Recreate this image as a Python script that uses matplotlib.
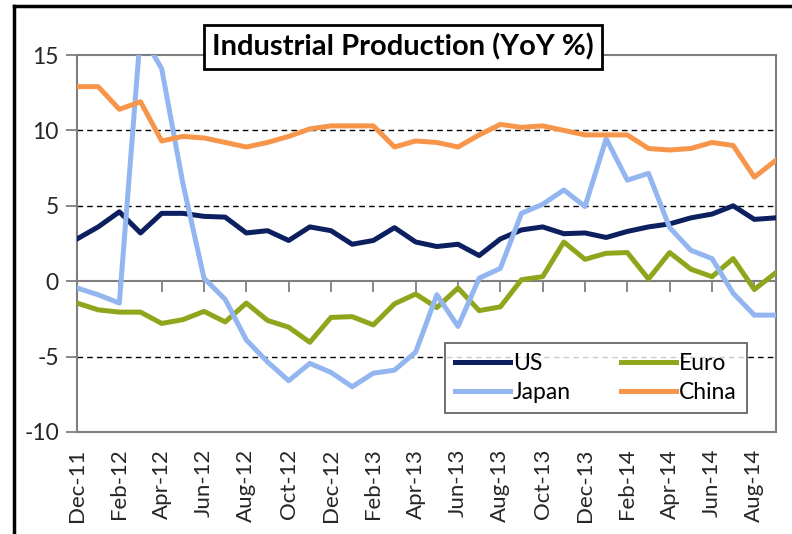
import numpy as np
import matplotlib
matplotlib.use("Agg")
import matplotlib.pyplot as plt
from matplotlib.lines import Line2D

plt.rcParams['font.family'] = ['Lato', 'DejaVu Sans']

# Месяцы: Dec-11 ... Sep-14
months = ['Dec-11', 'Jan-12', 'Feb-12', 'Mar-12', 'Apr-12', 'May-12', 'Jun-12', 'Jul-12',
          'Aug-12', 'Sep-12', 'Oct-12', 'Nov-12', 'Dec-12', 'Jan-13', 'Feb-13', 'Mar-13',
          'Apr-13', 'May-13', 'Jun-13', 'Jul-13', 'Aug-13', 'Sep-13', 'Oct-13', 'Nov-13',
          'Dec-13', 'Jan-14', 'Feb-14', 'Mar-14', 'Apr-14', 'May-14', 'Jun-14', 'Jul-14',
          'Aug-14', 'Sep-14']

us = [2.8, 3.6, 4.6, 3.2, 4.5, 4.5, 4.3, 4.25, 3.2, 3.35, 2.7, 3.6, 3.35, 2.45, 2.7, 3.55,
      2.6, 2.3, 2.45, 1.7, 2.8, 3.4, 3.6, 3.15, 3.2, 2.9, 3.3, 3.6, 3.8, 4.2, 4.45, 5.0,
      4.1, 4.2]
euro = [-1.45, -1.9, -2.05, -2.05, -2.8, -2.55, -2.0, -2.7, -1.45, -2.6, -3.05, -4.05,
        -2.4, -2.35, -2.9, -1.5, -0.85, -1.75, -0.45, -1.95, -1.7, 0.1, 0.3, 2.6, 1.45,
        1.85, 1.9, 0.15, 1.9, 0.8, 0.3, 1.5, -0.55, 0.55]
japan = [-0.45, -0.9, -1.45, 16.5, 14.1, 6.5, 0.2, -1.2, -3.9, -5.35, -6.6, -5.45, -6.05,
         -7.0, -6.1, -5.9, -4.7, -0.9, -3.0, 0.2, 0.85, 4.5, 5.1, 6.05, 4.95, 9.45, 6.7,
         7.15, 3.55, 2.05, 1.5, -0.8, -2.25, -2.25]
china = [12.9, 12.9, 11.4, 11.9, 9.3, 9.6, 9.5, 9.2, 8.9, 9.2, 9.6, 10.1, 10.3, 10.3, 10.3,
         8.9, 9.3, 9.2, 8.9, 9.7, 10.4, 10.2, 10.3, 10.0, 9.7, 9.7, 9.7, 8.8, 8.7, 8.8,
         9.2, 9.0, 6.9, 8.0]

yticks = [-10, -5, 0, 5, 10, 15]

x = np.arange(len(months))

fig = plt.figure(figsize=(7.92, 5.34), dpi=100)
ax = fig.add_axes([77 / 792, 1 - 432 / 534, 698.5 / 792, 377 / 534])

# Пунктирная сетка
for v in [-5, 5, 10]:
    ax.axhline(v, color='black', lw=1.0, ls=(0, (4, 3)), zorder=1)
ax.axhline(0, color='#7f7f7f', lw=1.5, zorder=1)

l_us, = ax.plot(x, us, color='#0c1f5e', lw=3.6, label='US', zorder=3)
l_eu, = ax.plot(x, euro, color='#8ea61c', lw=3.6, label='Euro', zorder=3)
l_jp, = ax.plot(x, japan, color='#94b6f0', lw=3.6, label='Japan', zorder=3)
l_cn, = ax.plot(x, china, color='#f7964a', lw=3.6, label='China', zorder=3)

ax.set_xlim(0, len(months) - 1)
ax.set_ylim(-10, 15)
ax.set_yticks(yticks)
ax.set_yticklabels([str(v) for v in yticks], fontsize=16.5, color='#262626')
ax.tick_params(axis='y', direction='out', length=8, width=1.3, color='#7f7f7f', pad=5)

ax.set_xticks(x[::2])
ax.set_xticklabels(months[::2], rotation=90, fontsize=16, color='#262626')
ax.tick_params(axis='x', length=0, pad=12)

# Ось X проходит через 0
sec = ax.secondary_xaxis(10 / 25)
sec.set_xticks(x[::2])
sec.set_xticklabels([])
sec.tick_params(axis='x', direction='out', length=8, width=1.3, color='#7f7f7f')
sec.spines['bottom'].set_visible(False)
sec.spines['top'].set_visible(False)

for s in ax.spines.values():
    s.set_color('#7f7f7f')
    s.set_linewidth(1.5)

# порядок: US, Euro / Japan, China
leg = ax.legend([l_us, l_jp, l_eu, l_cn], ['US', 'Japan', 'Euro', 'China'], ncol=2,
                loc='lower left', bbox_to_anchor=(0.527, 0.05), borderaxespad=0,
                fontsize=16.5, frameon=True, fancybox=False, handlelength=2.4,
                handletextpad=0.1, columnspacing=2.2, labelspacing=0.35,
                borderpad=0.45)
leg.get_frame().set_edgecolor('#404040')
leg.get_frame().set_linewidth(1.3)

fig.text(0.509, 0.912, 'Industrial Production (YoY %)', ha='center', va='center',
         fontsize=21, fontweight='bold', color='black',
         bbox=dict(boxstyle='square,pad=0.28', facecolor='white', edgecolor='black', lw=2))

# Рамка картинки
fig.add_artist(Line2D([14 / 792, 1], [1 - 6 / 534, 1 - 6 / 534], color='black', lw=2.5,
                      transform=fig.transFigure))
fig.add_artist(Line2D([14 / 792, 14 / 792], [0, 1 - 6 / 534], color='black', lw=2.5,
                      transform=fig.transFigure))

fig.savefig('out.png', dpi=100)
